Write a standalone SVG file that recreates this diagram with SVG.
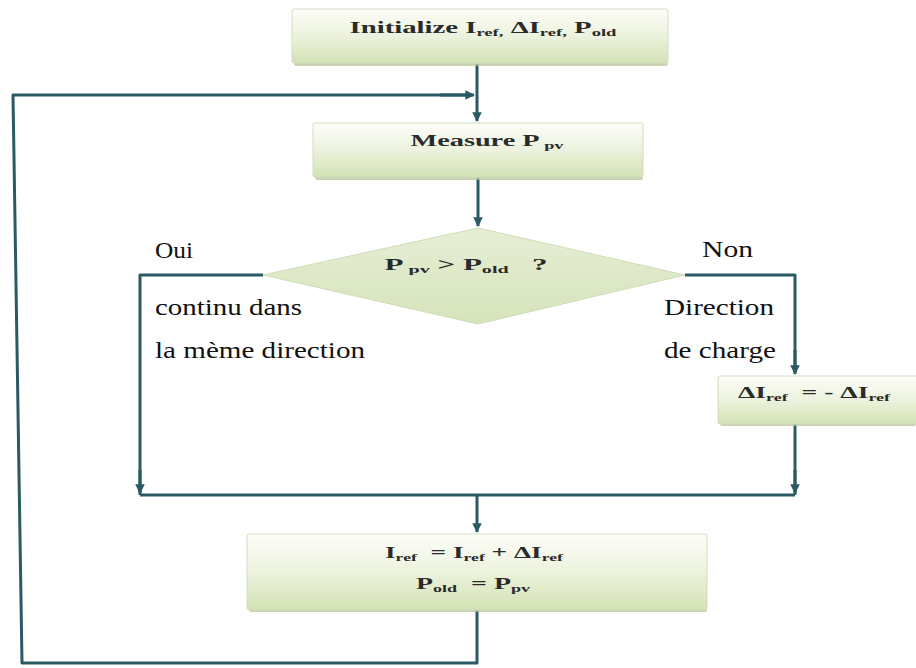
<svg xmlns="http://www.w3.org/2000/svg" width="916" height="668" viewBox="0 0 916 668">
  <defs>
    <linearGradient id="boxFill" x1="0" y1="0" x2="0" y2="1">
      <stop offset="0" stop-color="#fdfef9"/>
      <stop offset="0.5" stop-color="#ecf2dd"/>
      <stop offset="1" stop-color="#d3e2b3"/>
    </linearGradient>
    <linearGradient id="diamondFill" x1="0" y1="0" x2="0" y2="1">
      <stop offset="0" stop-color="#e6eed5"/>
      <stop offset="1" stop-color="#d6e4bb"/>
    </linearGradient>
    <marker id="arrow" viewBox="0 0 10 10" refX="9" refY="5" markerWidth="3.2" markerHeight="3.2" orient="auto" markerUnits="strokeWidth">
      <path d="M0,0 L10,5 L0,10 z" fill="#2b5a64"/>
    </marker>
  </defs>
  <style>
    .box { fill: url(#boxFill); stroke: #d2dcc0; stroke-width: 1; }
    .shadow { fill: #b5c697; opacity: 0.75; }
    .diamond { fill: url(#diamondFill); stroke: #cfdcb6; stroke-width: 1; }
    .wire { fill: none; stroke: #2b5a64; stroke-width: 3; stroke-linejoin: round; }
    .flow { marker-end: url(#arrow); }
    .math { font-family: "Liberation Serif", "Times New Roman", serif; font-weight: bold; font-size: 17px; fill: #2a2a2a; text-anchor: middle; }
    .sub { font-size: 11px; }
    .label { font-family: "Liberation Serif", "Times New Roman", serif; font-size: 23px; fill: #111; }
  </style>

  <rect width="916" height="668" fill="#ffffff"/>

  <!-- connectors -->
  <g id="connectors">
    <path class="wire flow" d="M477,64 V121"/>
    <path class="wire flow" d="M478,178 V226"/>
    <path class="wire" d="M263,275 H140 V495"/>
    <path class="wire flow" d="M140,470 V493"/>
    <path class="wire" d="M685,275 H795 V372"/>
    <path class="wire flow" d="M795,350 V374"/>
    <path class="wire" d="M795,424 V495"/>
    <path class="wire flow" d="M795,470 V493"/>
    <path class="wire" d="M140,495 H795"/>
    <path class="wire flow" d="M477,495 V532"/>
    <path class="wire" d="M477,610 V663 H22 L13,95 H472"/>
    <path class="wire flow" d="M440,95 H474"/>
  </g>

  <!-- Initialize -->
  <g id="init">
    <rect class="shadow" x="294" y="62" width="374" height="4" rx="2"/>
    <rect class="box" x="292" y="9" width="376" height="54" rx="2"/>
    <text class="math" x="483" y="33" textLength="267" lengthAdjust="spacingAndGlyphs">Initialize I<tspan class="sub" dy="3">ref,</tspan><tspan dy="-3"> ΔI</tspan><tspan class="sub" dy="3">ref,</tspan><tspan dy="-3"> P</tspan><tspan class="sub" dy="3">old</tspan></text>
  </g>

  <!-- Measure -->
  <g id="measure">
    <rect class="shadow" x="315" y="176" width="328" height="4" rx="2"/>
    <rect class="box" x="313" y="123" width="330" height="54" rx="2"/>
    <text class="math" x="487" y="146" textLength="153" lengthAdjust="spacingAndGlyphs">Measure P<tspan class="sub" dy="3"> pv</tspan></text>
  </g>

  <!-- Decision -->
  <g id="decision">
    <polygon class="diamond" points="478,228 685,275 478,324 263,275"/>
    <text class="math" x="466" y="270" font-size="15" textLength="163" lengthAdjust="spacingAndGlyphs">P<tspan class="sub" dy="3"> pv</tspan><tspan dy="-3"> &gt;  P</tspan><tspan class="sub" dy="3">old</tspan><tspan dy="-3" xml:space="preserve">   ?</tspan></text>
  </g>

  <!-- Branch labels -->
  <g id="labels">
    <text class="label" x="155" y="258" textLength="38" lengthAdjust="spacingAndGlyphs">Oui</text>
    <text class="label" x="155" y="315" textLength="147" lengthAdjust="spacingAndGlyphs">continu dans</text>
    <text class="label" x="155" y="358" textLength="210" lengthAdjust="spacingAndGlyphs">la mème direction</text>
    <text class="label" x="702" y="257" textLength="51" lengthAdjust="spacingAndGlyphs">Non</text>
    <text class="label" x="664" y="315" textLength="110" lengthAdjust="spacingAndGlyphs">Direction</text>
    <text class="label" x="664" y="358" textLength="112" lengthAdjust="spacingAndGlyphs">de charge</text>
  </g>

  <!-- Invert step -->
  <g id="invert">
    <rect class="shadow" x="720" y="422" width="196" height="4" rx="2"/>
    <rect class="box" x="718" y="376" width="200" height="48" rx="2"/>
    <text class="math" x="814" y="398" textLength="152" lengthAdjust="spacingAndGlyphs">ΔI<tspan class="sub" dy="3">ref</tspan><tspan dy="-3" xml:space="preserve">  = - ΔI</tspan><tspan class="sub" dy="3">ref</tspan></text>
  </g>

  <!-- Update -->
  <g id="update">
    <rect class="shadow" x="249" y="608" width="458" height="4" rx="2"/>
    <rect class="box" x="247" y="534" width="460" height="76" rx="2"/>
    <text class="math" x="474" y="558" textLength="178" lengthAdjust="spacingAndGlyphs">I<tspan class="sub" dy="3">ref</tspan><tspan dy="-3" xml:space="preserve">  = I</tspan><tspan class="sub" dy="3">ref</tspan><tspan dy="-3"> + ΔI</tspan><tspan class="sub" dy="3">ref</tspan></text>
    <text class="math" x="473" y="589" textLength="114" lengthAdjust="spacingAndGlyphs">P<tspan class="sub" dy="3">old</tspan><tspan dy="-3" xml:space="preserve">  = P</tspan><tspan class="sub" dy="3">pv</tspan></text>
  </g>
</svg>
